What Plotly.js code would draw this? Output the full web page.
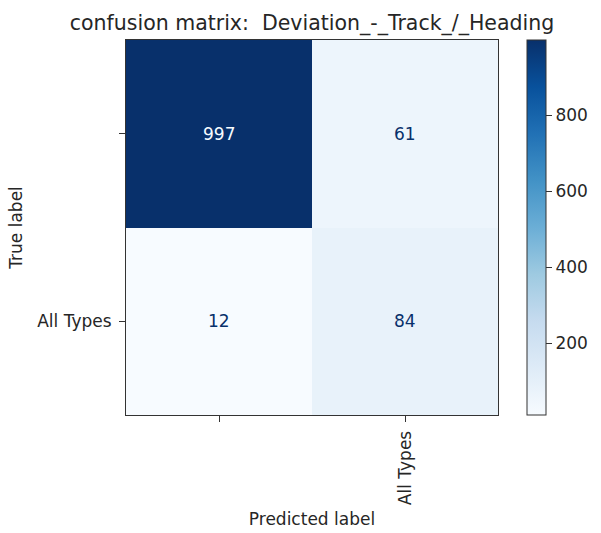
<!DOCTYPE html>
<html>
<head>
<meta charset="utf-8">
<script src="https://cdn.plot.ly/plotly-3.0.1.min.js"></script>
<style>html,body{margin:0;padding:0;background:#fff;}#chart{width:601px;height:533px;}</style>
</head>
<body>
<div id="chart"></div>
<script>
// Data
const predictedLabels = ["", "All Types"];
const trueLabels = ["", "All Types"];
const counts = [
  [997, 61],
  [12, 84]
];
const colorbarTicks = [200, 400, 600, 800];
const titleText = "confusion matrix:\u00a0 Deviation_-_Track_/_Heading";

const blues = [
  [0.0, '#f7fbff'], [0.125, '#deebf7'], [0.25, '#c6dbef'], [0.375, '#9ecae1'],
  [0.5, '#6baed6'], [0.625, '#4292c6'], [0.75, '#2171b5'], [0.875, '#08519c'], [1.0, '#08306b']
];

const flat = counts.flat();
const zmin = Math.min(...flat), zmax = Math.max(...flat);
const thresh = (zmin + zmax) / 2;

const xIdx = predictedLabels.map((_, i) => i);
const yIdx = trueLabels.map((_, i) => i);

const annotations = [];
counts.forEach((row, r) => row.forEach((v, c) => {
  annotations.push({
    x: xIdx[c], y: yIdx[r], xref: 'x', yref: 'y', text: String(v), showarrow: false,
    font: {family: 'DejaVu Sans', size: 17, color: v > thresh ? '#f7fbff' : '#08306b'}
  });
}));

const font = {family: 'DejaVu Sans', size: 17, color: '#262626'};

const trace = {
  type: 'heatmap', x: xIdx, y: yIdx, z: counts, zmin: zmin, zmax: zmax,
  colorscale: blues, hoverinfo: 'skip',
  colorbar: {
    x: 1.077, xanchor: 'left', xpad: 0, ypad: 0, y: 0.5, yanchor: 'middle', len: 1, lenmode: 'fraction',
    thickness: 19, outlinecolor: '#333', outlinewidth: 1,
    tickvals: colorbarTicks, ticks: 'outside', ticklen: 6, tickcolor: '#333',
    tickfont: font
  }
};

const layout = {
  width: 601, height: 533,
  margin: {l: 126, r: 99, t: 40, b: 118},
  paper_bgcolor: '#fff', plot_bgcolor: '#fff',
  font: font,
  title: {text: titleText, font: {family: 'DejaVu Sans', size: 20.5, color: '#262626'}, x: 0.5, xref: 'paper', y: 1 - 23/533, yref: 'container', yanchor: 'middle'},
  xaxis: {
    range: [-0.5, 1.5], tickvals: xIdx, ticktext: predictedLabels, tickangle: -90,
    ticks: 'outside', ticklen: 6, tickcolor: '#333', showgrid: false, zeroline: false,
    showline: true, mirror: true, linecolor: '#333', linewidth: 1, ticklabelstandoff: 2,
    title: {text: 'Predicted label', font: font, standoff: 8}
  },
  yaxis: {
    range: [1.5, -0.5], tickvals: yIdx, ticktext: trueLabels,
    ticks: 'outside', ticklen: 6, tickcolor: '#333', showgrid: false, zeroline: false,
    showline: true, mirror: true, linecolor: '#333', linewidth: 1, ticklabelstandoff: 4,
    title: {text: 'True label', font: font, standoff: 10}
  },
  annotations: annotations
};

Plotly.newPlot('chart', [trace], layout, {displayModeBar: false, staticPlot: true});
</script>
</body>
</html>
